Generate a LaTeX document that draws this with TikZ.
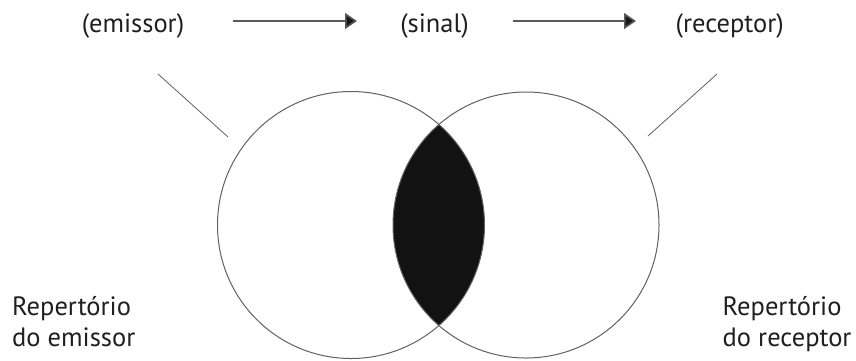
\documentclass[tikz,border=0pt]{standalone}
\usepackage{fontspec}
\setmainfont{PT Sans}
\usetikzlibrary{arrows.meta}
\begin{document}
\begin{tikzpicture}[x=1pt,y=-1pt,
  lbl/.style={font=\fontsize{26.5}{31}\selectfont, inner sep=0pt, text=black!88},
  circ/.style={draw=black!62, line width=1pt},
  lead/.style={draw=black!62, line width=0.8pt},
  flow/.style={draw=black!65, line width=1.6pt, -{Triangle[length=12pt,width=16pt,fill=black!90]}}]
\useasboundingbox (0,0) rectangle (856,360);
\coordinate (cl) at (351,225);
\coordinate (cr) at (526,225);
\begin{scope}
  \clip (cl) circle (133.5);
  \fill[black!93] (cr) circle (133);
\end{scope}
\draw[circ] (cl) circle (133.5);
\draw[circ] (cr) circle (133);
\node[lbl, anchor=base] (em) at (133,32) {(emissor)};
\node[lbl, anchor=base] (si) at (434.5,32) {(sinal)};
\node[lbl, anchor=base] (re) at (729.7,32) {(receptor)};
\coordinate (a1) at (233,21);
\coordinate (a2) at (357,21);
\coordinate (b1) at (513,21);
\coordinate (b2) at (636,21);
\draw[flow] (a1) -- (a2);
\draw[flow] (b1) -- (b2);
\coordinate (l1) at (158,74);
\coordinate (l2) at (228,137);
\coordinate (r1) at (717,74);
\coordinate (r2) at (648,136);
\draw[lead] (l1) -- (l2);
\draw[lead] (r1) -- (r2);
\node[lbl, align=left, anchor=base west] (re1) at (12,346.7) {Repertório\\do emissor};
\node[lbl, align=left, anchor=base west] (re2) at (722.5,346.7) {Repertório\\do receptor};
\end{tikzpicture}
\end{document}
